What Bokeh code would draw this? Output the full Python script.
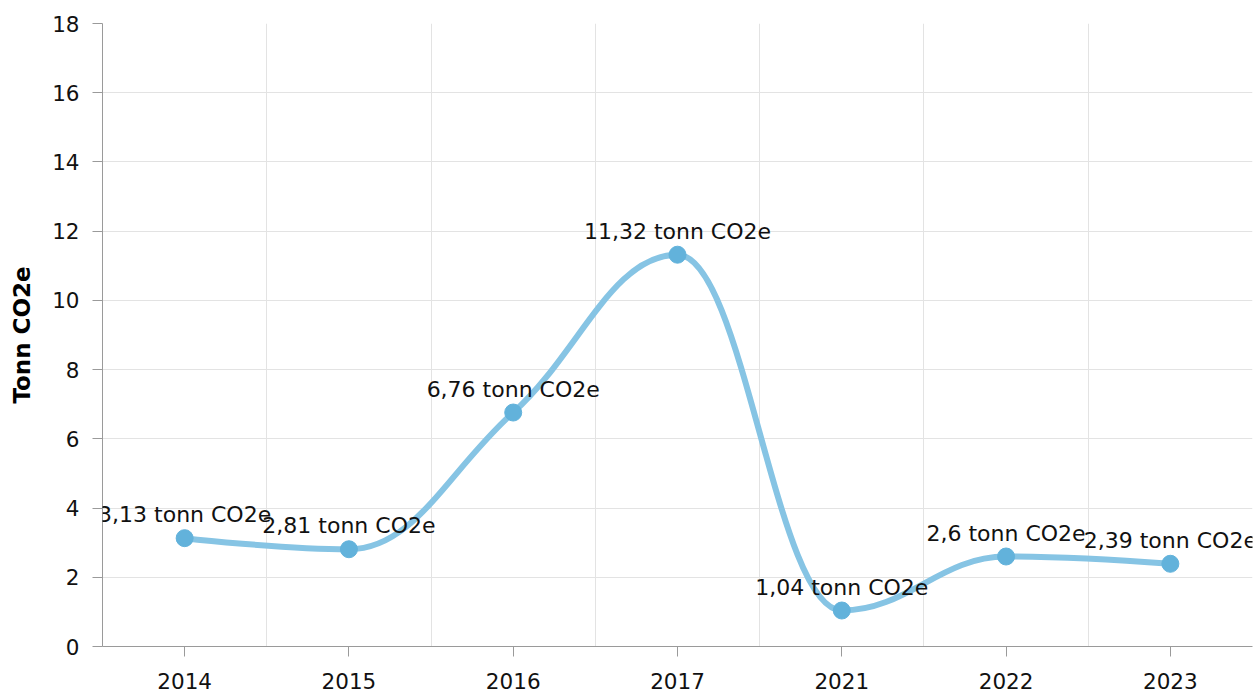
from bokeh.plotting import figure
from bokeh.models import ColumnDataSource, FixedTicker, LabelSet
from bokeh.core.properties import value
from bokeh.embed import file_html
from bokeh.resources import INLINE

years = ["2014", "2015", "2016", "2017", "2021", "2022", "2023"]
values = [3.13, 2.81, 6.76, 11.32, 1.04, 2.6, 2.39]
y_ticks = [0, 2, 4, 6, 8, 10, 12, 14, 16, 18]
unit = "tonn CO2e"
y_title = "Tonn CO2e"

xs = [i + 0.5 for i in range(len(years))]
labels = [str(v).replace(".", ",") + " " + unit for v in values]

# Highcharts-style spline control points (smoothing 1.5)
def spline_controls(x, y):
    n = len(x)
    left = [None] * n
    right = [None] * n
    s = 1.5
    d = s + 1
    for i in range(n):
        if i == 0 or i == n - 1:
            left[i] = (x[i], y[i])
            right[i] = (x[i], y[i])
            continue
        lx = (s * x[i] + x[i - 1]) / d
        ly = (s * y[i] + y[i - 1]) / d
        rx = (s * x[i] + x[i + 1]) / d
        ry = (s * y[i] + y[i + 1]) / d
        if rx != lx:
            corr = ((ry - ly) * (rx - x[i])) / (rx - lx) + y[i] - ry
            ly += corr
            ry += corr
        if ly > y[i - 1] and ly > y[i]:
            ly = max(y[i - 1], y[i]); ry = 2 * y[i] - ly
        elif ly < y[i - 1] and ly < y[i]:
            ly = min(y[i - 1], y[i]); ry = 2 * y[i] - ly
        if ry > y[i + 1] and ry > y[i]:
            ry = max(y[i + 1], y[i]); ly = 2 * y[i] - ry
        elif ry < y[i + 1] and ry < y[i]:
            ry = min(y[i + 1], y[i]); ly = 2 * y[i] - ry
        left[i] = (lx, ly)
        right[i] = (rx, ry)
    return left, right

left, right = spline_controls(xs, values)
seg = dict(
    x0=xs[:-1], y0=values[:-1], x1=xs[1:], y1=values[1:],
    cx0=[right[i][0] for i in range(len(xs) - 1)],
    cy0=[right[i][1] for i in range(len(xs) - 1)],
    cx1=[left[i + 1][0] for i in range(len(xs) - 1)],
    cy1=[left[i + 1][1] for i in range(len(xs) - 1)],
)

FONT = "DejaVu Sans"

p = figure(width=1260, height=692, output_backend="svg", toolbar_location=None,
           x_range=(0, len(years)), y_range=(0, 18),
           min_border_left=102, min_border_top=23, min_border_bottom=46, min_border_right=8)
p.outline_line_color = None
p.background_fill_color = "white"

p.bezier(x0="x0", y0="y0", x1="x1", y1="y1", cx0="cx0", cy0="cy0", cx1="cx1", cy1="cy1",
         source=ColumnDataSource(seg), line_color="#86c4e4", line_width=6, line_cap="round")

src = ColumnDataSource(dict(x=xs, y=values, label=labels))
p.scatter("x", "y", source=src, size=17, fill_color="#62b2db", line_color="#62b2db")

ls = LabelSet(x="x", y="y", text="label", source=src, text_align="center",
              text_baseline="alphabetic", y_offset=16, text_font=value(FONT),
              text_font_size="22px", text_color="#111111")
p.add_layout(ls)

# axes
p.xaxis.ticker = FixedTicker(ticks=xs)
p.xaxis.major_label_overrides = {x: y for x, y in zip(xs, years)}
p.yaxis.ticker = FixedTicker(ticks=y_ticks)
for ax in (p.xaxis[0], p.yaxis[0]):
    ax.axis_line_color = "#9a9a9a"
    ax.major_tick_line_color = "#9a9a9a"
    ax.minor_tick_line_color = None
    ax.major_tick_in = 0
    ax.major_tick_out = 10
    ax.major_label_text_font = FONT
    ax.major_label_text_font_size = "21.5px"
    ax.major_label_text_color = "#111111"
p.xaxis.major_label_standoff = 16
p.yaxis.major_label_standoff = 13
p.yaxis.axis_label = y_title
p.yaxis.axis_label_text_font = FONT
p.yaxis.axis_label_text_font_size = "23px"
p.yaxis.axis_label_text_font_style = "bold"
p.yaxis.axis_label_text_color = "#000000"
p.yaxis.axis_label_standoff = 14

p.xgrid.ticker = FixedTicker(ticks=list(range(1, len(years) + 1)))
p.xgrid.grid_line_color = "#e3e3e3"
p.ygrid.grid_line_color = "#e3e3e3"

open("out.html", "w").write(file_html(p, INLINE))
